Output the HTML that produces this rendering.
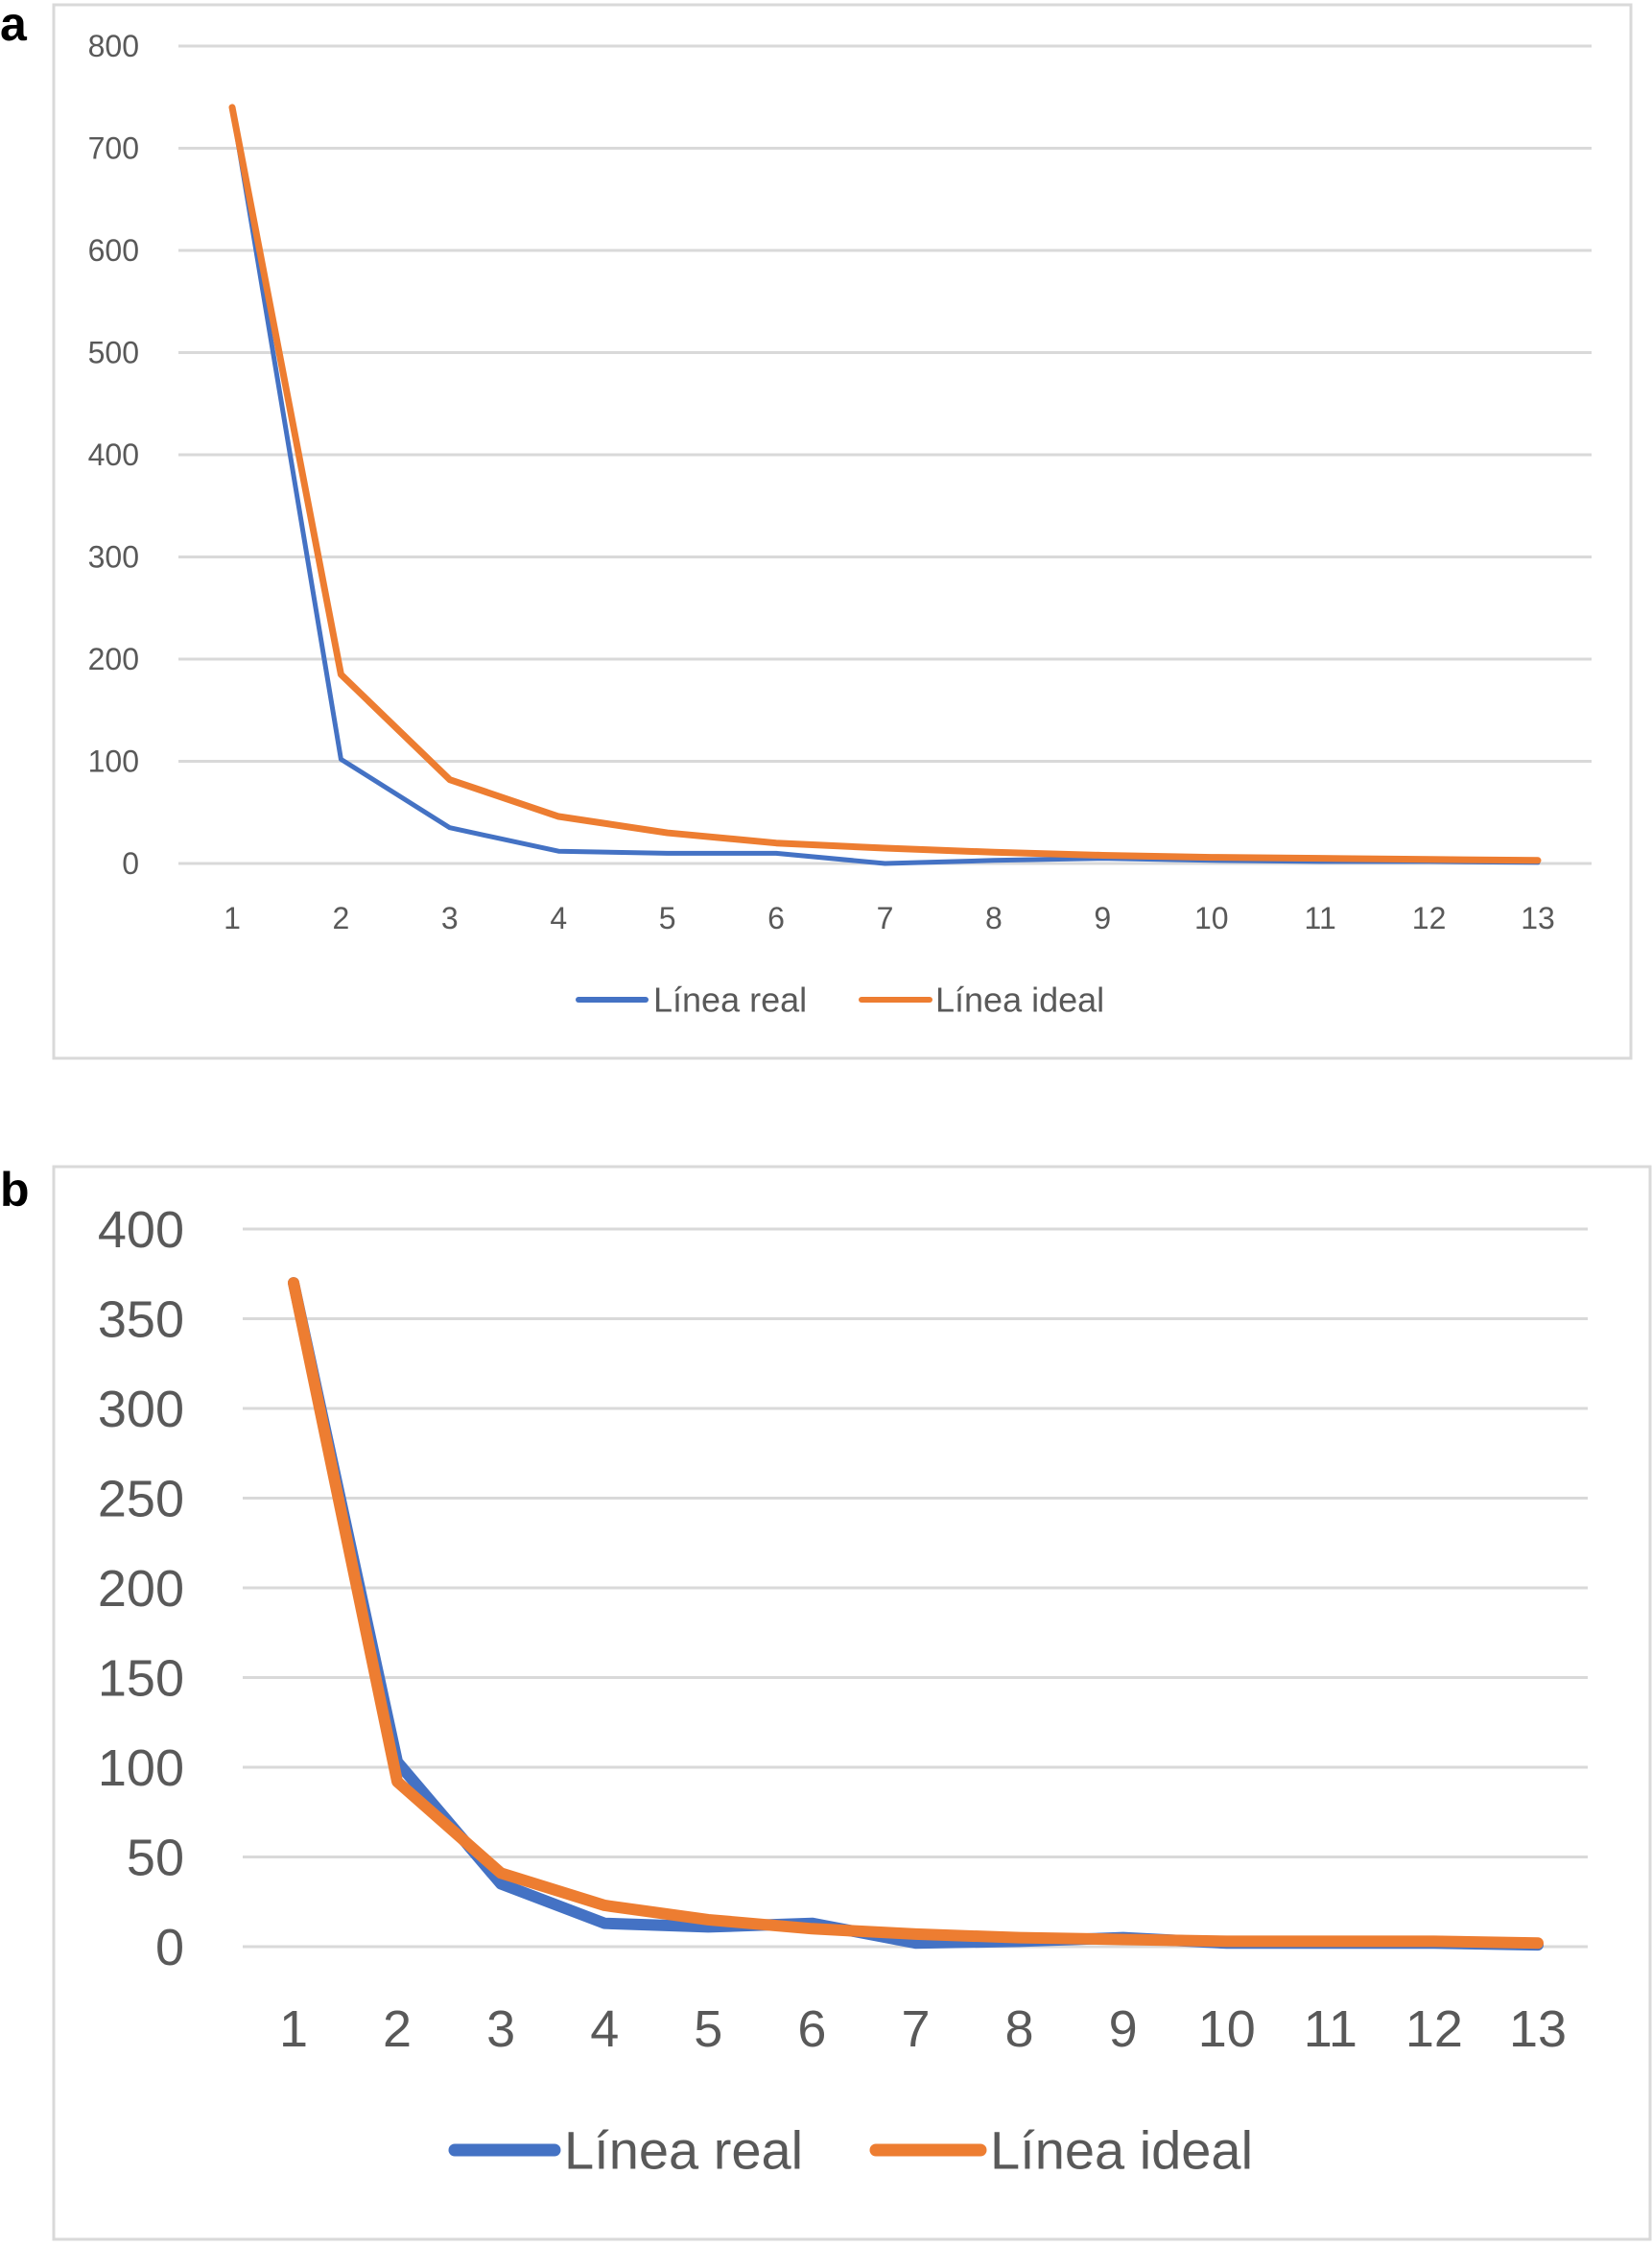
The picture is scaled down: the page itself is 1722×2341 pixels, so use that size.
<!DOCTYPE html>
<html><head><meta charset="utf-8"><style>
html,body{margin:0;padding:0;background:#fff;}
svg{display:block;font-family:"Liberation Sans",sans-serif;}
</style></head><body>
<svg id="root" width="1722" height="2341" viewBox="0 0 1722 2341">
<text x="0" y="42" font-size="50" font-weight="bold">a</text>
<rect x="56" y="5" width="1644" height="1098" fill="#fff" stroke="#d9d9d9" stroke-width="3"/>
<text x="0" y="1257" font-size="50" font-weight="bold">b</text>
<rect x="56" y="1216" width="1664" height="1118" fill="#fff" stroke="#d9d9d9" stroke-width="3"/>
<g id="ca"></g>
<g id="cb"></g>
</svg>
<script>
const categories=[1,2,3,4,5,6,7,8,9,10,11,12,13];
const aTicks=[0,100,200,300,400,500,600,700,800];
const aReal=[740,102,35,12,10,10,0,3,5,3,2,2,1];
const aIdeal=[740,185,82,46,30,20,15,11,8,6,5,4,3];
const bTicks=[0,50,100,150,200,250,300,350,400];
const bReal=[370,103,35,13,11,13,2,3,5,2,2,2,1];
const bIdeal=[370,92,41,23,15,10,7,5,4,3,3,3,2];
const NS="http://www.w3.org/2000/svg";
function mk(t,a,p){const e=document.createElementNS(NS,t);for(const k in a)e.setAttribute(k,a[k]);p.appendChild(e);return e;}
function draw(g,cfg){
  const max=cfg.ticks[cfg.ticks.length-1];
  const y=v=>cfg.y0-(v/max)*(cfg.y0-cfg.yTop);
  const x=i=>cfg.x1+(cfg.x13-cfg.x1)*i/(categories.length-1);
  cfg.ticks.forEach(t=>{
    const l=mk('line',{x1:cfg.gx0,x2:cfg.gx1,y1:y(t),y2:y(t),stroke:'#d9d9d9','stroke-width':3},g);
    
    
    const tx=mk('text',{x:cfg.ylx,y:y(t)+cfg.fs*0.35,'font-size':cfg.fs,'text-anchor':'end',fill:'#595959'},g);
    tx.textContent=t;
    
    
  });
  categories.forEach((c,i)=>{
    const tx=mk('text',{x:x(i),y:cfg.xly,'font-size':cfg.fs,'text-anchor':'middle',fill:'#595959'},g);
    tx.textContent=c;
    
    
  });
  [[cfg.real,'#4472c4',cfg.lwB,'line-real'],[cfg.ideal,'#ed7d31',cfg.lwO,'line-ideal']].forEach(s=>{
    const p=mk('polyline',{points:s[0].map((v,i)=>x(i)+','+y(v)).join(' '),fill:'none',stroke:s[1],'stroke-width':s[2],'stroke-linejoin':'round','stroke-linecap':'round'},g);
    
    
  });
  cfg.legend.forEach(L=>{
    const lg=mk('g',{},g);
    
    
    mk('line',{x1:L.x0,x2:L.x1,y1:cfg.legY,y2:cfg.legY,stroke:L.c,'stroke-width':L.w,'stroke-linecap':'round'},lg);
    const t=mk('text',{x:L.tx,y:cfg.legY+cfg.lfs*0.35,'font-size':cfg.lfs,fill:'#595959'},lg);
    t.textContent=L.t;
  });
}
draw(document.getElementById('ca'),{ticks:aTicks,real:aReal,ideal:aIdeal,y0:900,yTop:48,gx0:186,gx1:1659,x1:242,x13:1603,ylx:145,xly:968,fs:32,lwB:5,lwO:7,legY:1042,lfs:36,
  legend:[{x0:603,x1:673,c:'#4472c4',w:6,tx:681,t:'Línea real'},{x0:898,x1:969,c:'#ed7d31',w:6,tx:975,t:'Línea ideal'}]});
draw(document.getElementById('cb'),{ticks:bTicks,real:bReal,ideal:bIdeal,y0:2029,yTop:1281,gx0:253,gx1:1655,x1:306,x13:1603,ylx:192,xly:2133,fs:54,lwB:12,lwO:12,legY:2241,lfs:56,
  legend:[{x0:474,x1:578,c:'#4472c4',w:13,tx:588,t:'Línea real'},{x0:913,x1:1022,c:'#ed7d31',w:13,tx:1032,t:'Línea ideal'}]});
</script>
</body></html>
